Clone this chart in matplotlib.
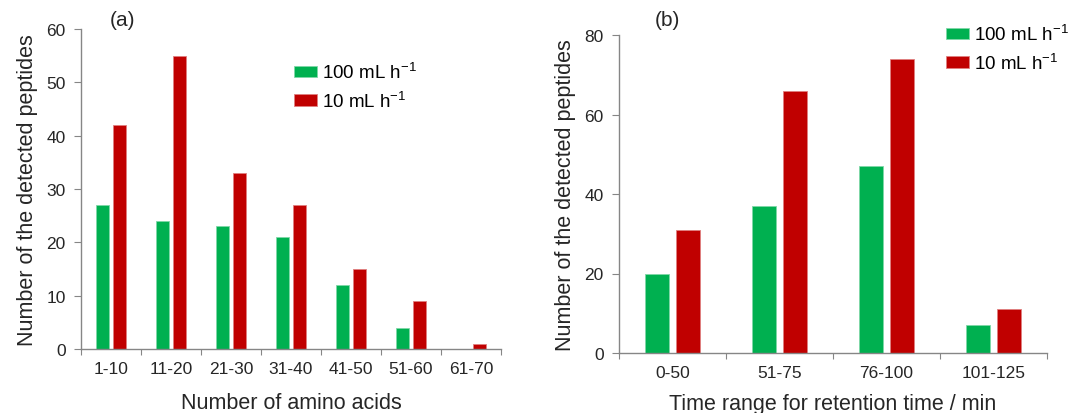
import matplotlib
matplotlib.use("Agg")
import matplotlib.pyplot as plt
import numpy as np

plt.rcParams['font.family'] = ['Liberation Sans', 'DejaVu Sans']
plt.rcParams['mathtext.default'] = 'regular'

# Panel (a)
cats_a = ["1-10", "11-20", "21-30", "31-40", "41-50", "51-60", "61-70"]
green_a = [27, 24, 23, 21, 12, 4, 0]
red_a = [42, 55, 33, 27, 15, 9, 1]

# Panel (b)
cats_b = ["0-50", "51-75", "76-100", "101-125"]
green_b = [20, 37, 47, 7]
red_b = [31, 66, 74, 11]

series_labels = ["100 mL h$^{-1}$", "10 mL h$^{-1}$"]
GREEN = "#00B050"
RED = "#C00000"
AXC = "#868686"
TXT = "#262626"

fig = plt.figure(figsize=(10.69, 4.14), dpi=100)
axa = fig.add_axes([81/1069, 64/414, 420/1069, 320/414])
axb = fig.add_axes([619/1069, 60/414, 428/1069, 318/414])


def draw(ax, cats, g, r, ymax, ystep, xlabel, lpad):
    n = len(cats)
    x = np.arange(n) + 0.5
    w = 0.225
    off = 0.145
    ax.bar(x - off, g, w, color=GREEN, edgecolor="#7fd8a8", linewidth=0.6, label=series_labels[0])
    ax.bar(x + off, r, w, color=RED, edgecolor="#e08080", linewidth=0.6, label=series_labels[1])
    ax.set_xlim(0, n)
    ax.set_ylim(0, ymax)
    ax.set_yticks(np.arange(0, ymax + 1, ystep))
    ax.set_xticks(np.arange(0, n + 1))
    ax.set_xticklabels([])
    ax.set_xticks(x, minor=True)
    ax.set_xticklabels(cats, minor=True)
    ax.tick_params(axis='x', which='minor', length=0, pad=9, labelsize=12.5, labelcolor=TXT)
    ax.tick_params(axis='x', which='major', length=4, color=AXC, direction='out')
    ax.tick_params(axis='y', length=5, color=AXC, direction='out', labelsize=12.5, labelcolor=TXT, pad=6)
    for s in ['top', 'right']:
        ax.spines[s].set_visible(False)
    for s in ['left', 'bottom']:
        ax.spines[s].set_color(AXC)
        ax.spines[s].set_linewidth(1.0)
    ax.set_xlabel(xlabel, fontsize=15.5, color=TXT, labelpad=lpad)
    ax.set_ylabel("Number of the detected peptides", fontsize=15.5, color=TXT, labelpad=6)


draw(axa, cats_a, green_a, red_a, 60, 10, "Number of amino acids", 11)
draw(axb, cats_b, green_b, red_b, 80, 20, "Time range for retention time / min", 9)

legkw = dict(frameon=False, fontsize=13.5, handlelength=1.2, handleheight=0.55,
             handletextpad=0.3, labelspacing=0.45, borderaxespad=0, borderpad=0)
axa.legend(loc='upper left', bbox_to_anchor=((294 - 81) / 420, (350 - 63) / 320), **legkw)
axb.legend(loc='upper left', bbox_to_anchor=((946 - 619) / 428, (354 - 25) / 318), **legkw)

fig.text(110/1069, 1 - 21/414, "(a)", fontsize=15, color=TXT, va='center', ha='left')
fig.text(655/1069, 1 - 21/414, "(b)", fontsize=15, color=TXT, va='center', ha='left')

fig.savefig("out.png", dpi=100, facecolor="white")
